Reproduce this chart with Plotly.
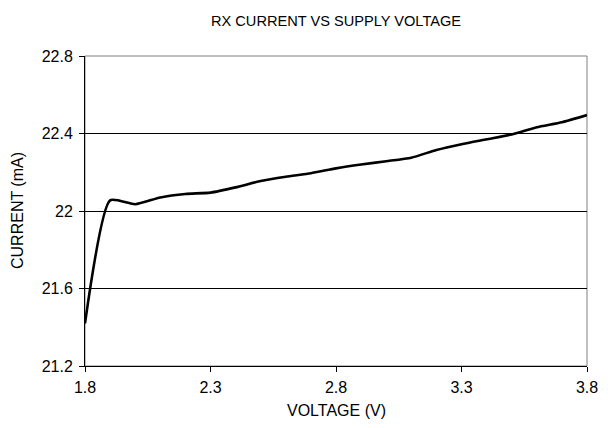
import plotly.graph_objects as go

voltage = [1.8, 1.9, 2.0, 2.1, 2.2, 2.3, 2.4, 2.5, 2.6, 2.7, 2.8,
           2.9, 3.0, 3.1, 3.2, 3.3, 3.4, 3.5, 3.6, 3.7, 3.8]
current = [21.42, 22.055, 22.035, 22.07, 22.088, 22.095, 22.122, 22.155, 22.177, 22.195, 22.22,
           22.24, 22.257, 22.275, 22.315, 22.345, 22.37, 22.395, 22.432, 22.458, 22.495]

x_ticks = [1.8, 2.3, 2.8, 3.3, 3.8]
x_labels = ["1.8", "2.3", "2.8", "3.3", "3.8"]
y_ticks = [21.2, 21.6, 22.0, 22.4, 22.8]
y_labels = ["21.2", "21.6", "22", "22.4", "22.8"]

FONT = "Liberation Sans, Arial, sans-serif"

fig = go.Figure()
fig.add_trace(go.Scatter(
    x=voltage, y=current, mode="lines",
    line=dict(color="black", width=2.6, shape="spline", smoothing=0.55),
    showlegend=False, hoverinfo="x+y"))

fig.update_layout(
    width=602, height=420,
    margin=dict(l=77, r=15, t=48, b=62),
    paper_bgcolor="white", plot_bgcolor="white",
    font=dict(family=FONT, size=16, color="black"),
    shapes=[dict(type="rect", xref="paper", yref="paper", x0=0, y0=0, x1=1, y1=1,
                 line=dict(color="#808080", width=1), layer="below")],
    annotations=[
        dict(text="RX CURRENT VS SUPPLY VOLTAGE", xref="paper", yref="paper",
             x=0.5, y=1, yshift=35, showarrow=False, font=dict(size=14.6),
             xanchor="center", yanchor="middle"),
        dict(text="VOLTAGE (V)", xref="paper", yref="paper", x=0.5, y=0,
             yshift=-44, showarrow=False, font=dict(size=16),
             xanchor="center", yanchor="middle"),
        dict(text="CURRENT (mA)", xref="paper", yref="paper", x=0, y=0.5,
             xshift=-68, showarrow=False, textangle=-90, font=dict(size=16),
             xanchor="center", yanchor="middle"),
    ],
)
fig.update_xaxes(range=[1.8, 3.8], tickvals=x_ticks, ticktext=x_labels,
                 showgrid=False, zeroline=False, showline=True, linecolor="black",
                 linewidth=1, ticks="outside", ticklen=5, tickcolor="black",
                 tickfont=dict(size=16), ticklabelstandoff=2)
fig.update_yaxes(range=[21.2, 22.8], tickvals=y_ticks, ticktext=y_labels,
                 showgrid=True, gridcolor="black", gridwidth=1, zeroline=False,
                 showline=True, linecolor="black", linewidth=1, ticks="outside",
                 ticklen=5, tickcolor="black", tickfont=dict(size=16),
                 ticklabelstandoff=3)

fig.write_html("out.html")
